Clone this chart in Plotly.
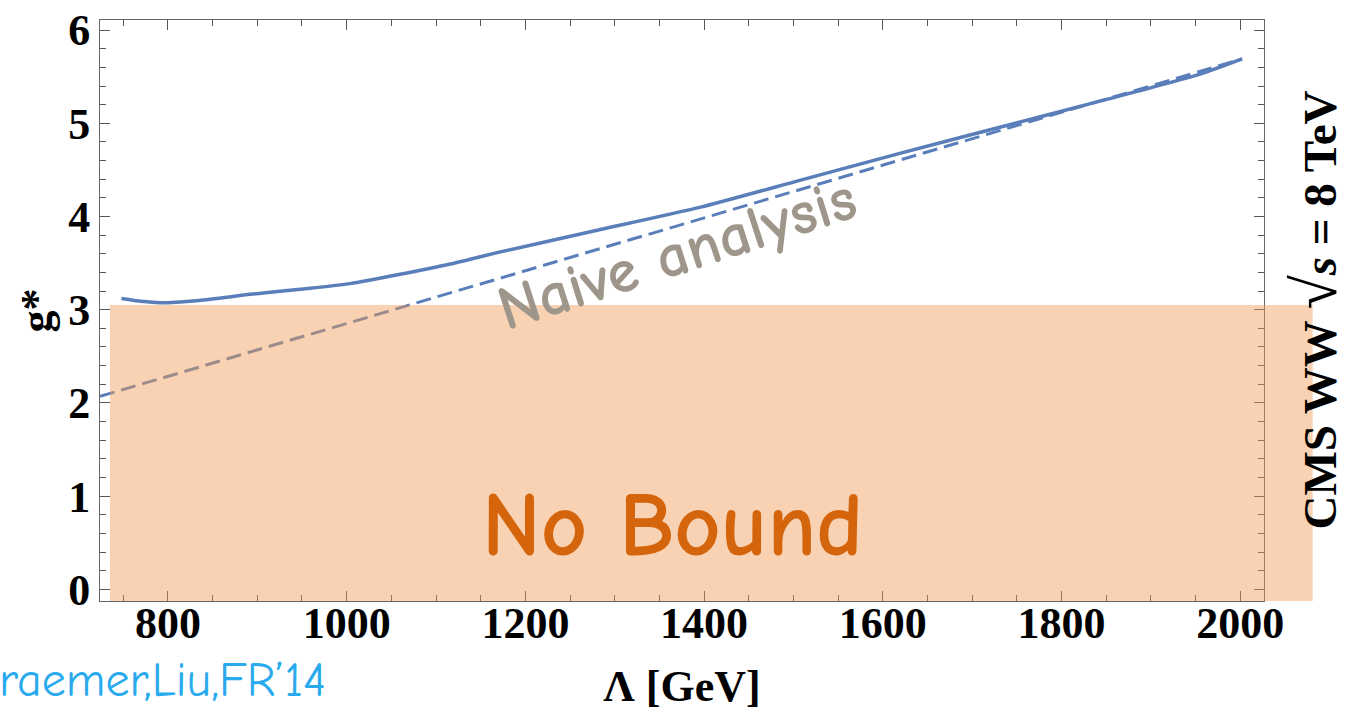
import plotly.graph_objects as go

# ---- data ----
lam_full = [748, 770, 791, 835, 892, 948, 1004, 1060, 1116, 1172, 1284, 1396, 1508, 1620, 1732, 1844, 1956, 2002]
g_full = [3.12, 3.09, 3.075, 3.10, 3.165, 3.22, 3.28, 3.38, 3.49, 3.62, 3.86, 4.10, 4.39, 4.68, 4.96, 5.24, 5.53, 5.69]

lam_naive = [724, 2002]
g_naive = [2.07, 5.69]

no_bound_top = 3.05          # upper edge of the "No Bound" band
x_ticks = [800, 1000, 1200, 1400, 1600, 1800, 2000]
y_ticks = [0, 1, 2, 3, 4, 5, 6]

BLUE = "#5A7EBA"
SERIF = "Liberation Serif, Times New Roman, serif"
COMIC = "Comic Sans MS, Comic Neue, Lato, Noto Sans, sans-serif"

fig = go.Figure()
fig.add_trace(go.Scatter(x=lam_full, y=g_full, mode="lines",
                         line=dict(color=BLUE, width=3.5, shape="spline", smoothing=0.6),
                         showlegend=False, hoverinfo="skip"))
fig.add_trace(go.Scatter(x=lam_naive, y=g_naive, mode="lines",
                         line=dict(color=BLUE, width=3, dash="15px,7px"),
                         showlegend=False, hoverinfo="skip"))

# shaded "No Bound" band (extends past the right frame)
fig.add_shape(type="rect", xref="paper", yref="y",
              x0=0.0086, x1=1.0418, y0=-1, y1=no_bound_top,
              fillcolor="rgb(240,155,84)", opacity=0.45, line=dict(width=0),
              layer="above")

fig.add_annotation(x=1365, y=0.68, xref="x", yref="y", text="No Bound", showarrow=False,
                   font=dict(family=COMIC, size=90, color="#D4650C", weight="bold"))
fig.add_annotation(x=1370, y=3.60, xref="x", yref="y", text="Naive analysis", showarrow=False,
                   textangle=-18, font=dict(family=COMIC, size=62, color="#9E968A", weight="bold"))
fig.add_annotation(x=1.043, y=0.50, xref="paper", yref="paper", xanchor="center", yanchor="middle",
                   text="<b>CMS WW <span style='font-size:62px'>√</span><i>s</i> = 8 TeV</b>",
                   showarrow=False, textangle=-90,
                   font=dict(family=SERIF, size=47, color="black"))
fig.add_annotation(x=0.196, y=-0.136, xref="paper", yref="paper", xanchor="right", yanchor="middle",
                   text="Kraemer,Liu,FR’14", showarrow=False,
                   font=dict(family=COMIC, size=48, color="#2AAAEE"))

axis_common = dict(showline=True, linecolor="#666", linewidth=1, mirror="ticks",
                   ticks="inside", ticklen=10, tickcolor="#555", tickwidth=1,
                   showgrid=False, zeroline=False, automargin=False,
                   ticklabeloverflow="allow",
                   tickfont=dict(family=SERIF, size=44, color="black", weight="bold"))

fig.update_xaxes(range=[724, 2026.5], tickvals=x_ticks,
                 minor=dict(dtick=50, tick0=0, ticks="inside", ticklen=6, tickcolor="#555"),
                 ticklabelstandoff=-17,
                 title=dict(text="<b>Λ [GeV]</b>", font=dict(family=SERIF, size=44, color="black"),
                            standoff=23),
                 **axis_common)
fig.update_yaxes(range=[-0.125, 6.108], tickvals=y_ticks,
                 minor=dict(dtick=0.2, tick0=0, ticks="inside", ticklen=6, tickcolor="#555"),
                 title=dict(text="<b>g*</b>", font=dict(family=SERIF, size=44, color="black"),
                            standoff=2),
                 **axis_common)

fig.update_layout(width=1356, height=712, margin=dict(l=100, r=92, t=20, b=111),
                  paper_bgcolor="white", plot_bgcolor="white")

# remove the page's default body margin so the figure fills the window exactly
fig.write_html("out.html", config={"displayModeBar": False},
               post_script="document.body.style.margin='0';document.body.style.overflow='hidden';")
